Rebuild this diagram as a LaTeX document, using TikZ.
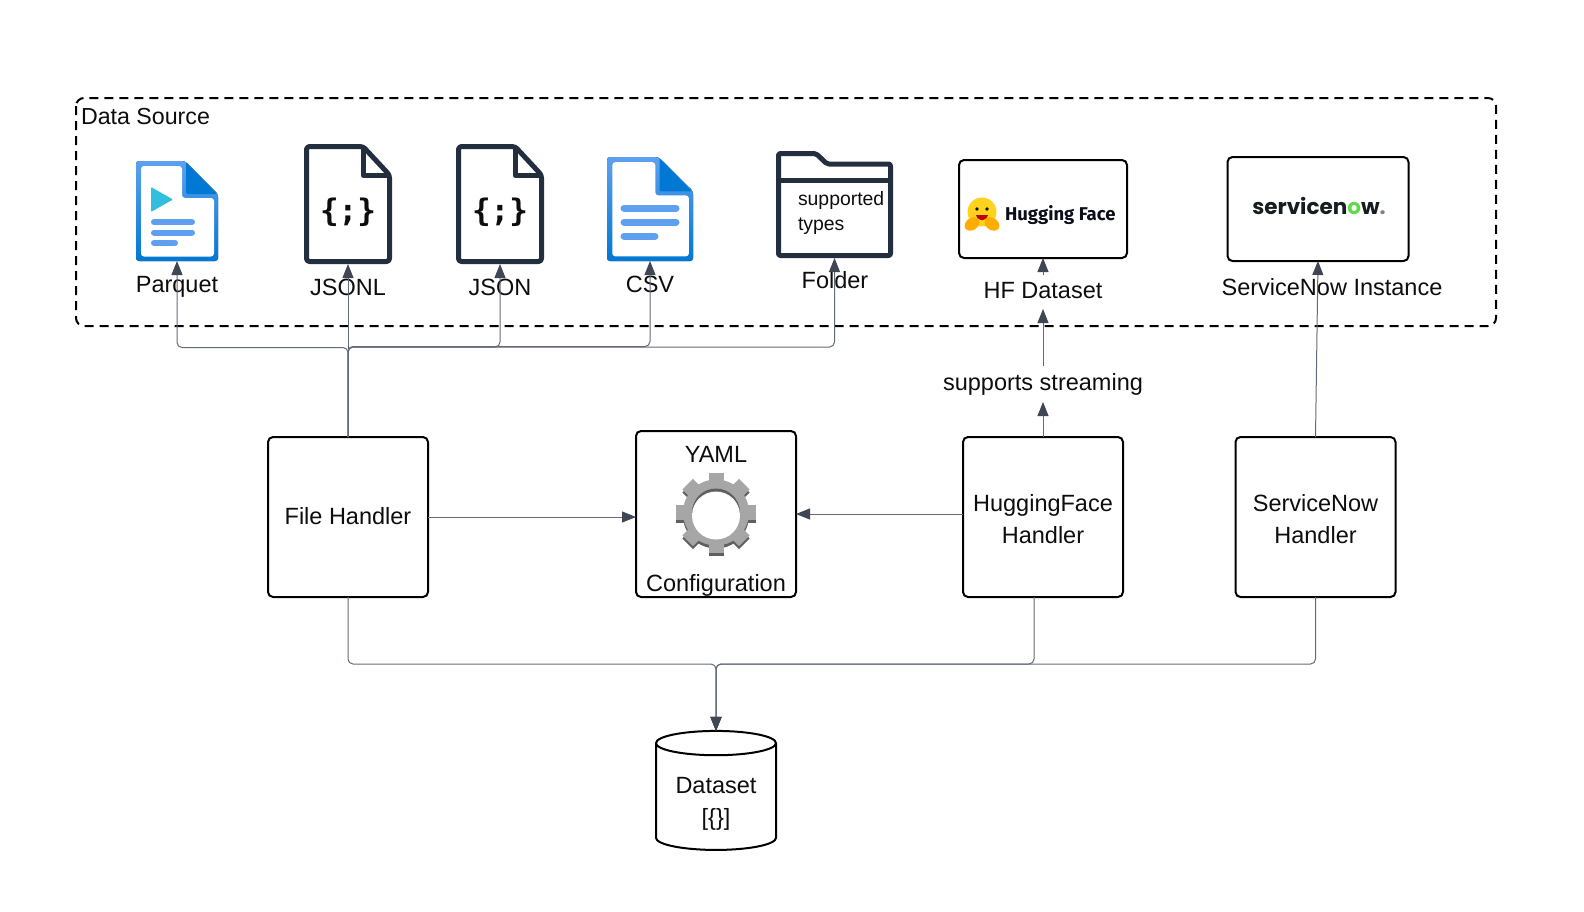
\documentclass[tikz,border=0pt]{standalone}
\usepackage{fontspec}
\setmainfont{Liberation Sans}
\newfontfamily\hffont{Fira Sans}
\newfontfamily\snfont{Poppins}
\newfontfamily\glyphfont{DejaVu Sans Mono}
\usetikzlibrary{arrows.meta,shapes.geometric,positioning}
\definecolor{inkdark}{HTML}{232F3E}
\definecolor{linegrey}{HTML}{646B78}
\definecolor{tipdark}{HTML}{404754}
\definecolor{bluelight}{HTML}{5EA0EF}
\definecolor{bluedeep}{HTML}{0078D4}
\definecolor{playcyan}{HTML}{32BEDD}
\definecolor{gearlight}{HTML}{A6A6A6}
\definecolor{gearshade}{HTML}{5F5F5F}
\definecolor{hfyellow}{HTML}{FFD21E}
\definecolor{hforange}{HTML}{FFAD03}
\definecolor{hftext}{HTML}{0B0F19}
\definecolor{snink}{HTML}{151D20}
\definecolor{sngreen}{HTML}{62D84E}
\newcommand\labelfont{\fontsize{23.5}{32}\selectfont}
\tikzset{
every node/.style={font=\labelfont,text=black!95,inner sep=0pt,outer sep=0pt},
handler/.style={draw=black,line width=2pt,rounded corners=5pt,align=center,minimum width=160pt,minimum height=160pt},
conn/.style={draw=linegrey,line width=1pt,rounded corners=5pt,-{Triangle[length=14pt,width=11pt,color=tipdark]}},
docline/.style={draw=bluelight,line cap=round},
darkdoc/.pic={
\draw[inkdark,line width=5pt,rounded corners=3pt,line join=round] (2.5,2.5) -- (59,2.5) -- (85.5,31) -- (85.5,117.5) -- (2.5,117.5) -- cycle;
\draw[inkdark,line width=5pt,line join=round] (59,2.5) -- (59,31) -- (85.5,31);
\node (-glyph) at (44,68) {\glyphfont\fontsize{31}{31}\selectfont\bfseries\{;\}};
},
bluedoc/.pic={
\fill[rounded corners=3pt,top color=bluelight,bottom color=bluedeep] (0,0) -- (49,0) -- (82,33) -- (82,100) -- (0,100) -- cycle;
\fill[white,rounded corners=3pt] (5,5) -- (46,5) -- (46,37) -- (78,37) -- (78,95.5) -- (5,95.5) -- cycle;
\fill[bluedeep,rounded corners=2pt] (50,1) -- (81,33) -- (50,33) -- cycle;
},
gearicon/.pic={
\foreach \c/\d in {gearshade/3,gearlight/0}{
\fill[\c] (0,\d) circle (33);
\foreach \a in {0,45,...,315}
\fill[\c,shift={(0,\d)},rotate=\a] (-7.5,-40) rectangle (7.5,0);
}
\fill[gearshade] (0,0) circle (24);
\fill[white] (0,3) circle (24);
},
hugface/.pic={
\fill[white] (0,0) circle (17);
\fill[hfyellow] (0,-2) circle (14.5);
\fill[hftext] (-5,-5) circle (1.8) (5,-5) circle (1.8);
\fill[red!75!black] (-6,1) .. controls (-4,8) and (4,8) .. (6,1) -- cycle;
\fill[hforange,rotate around={35:(-10,10)}] (-10,10) ellipse (8 and 6);
\fill[hforange,rotate around={-35:(10,10)}] (10,10) ellipse (8 and 6);
}
}
\begin{document}
\begin{tikzpicture}[x=1pt,y=-1pt]
\useasboundingbox (0,0) rectangle (1584,911);
\draw[black,line width=2pt,dash pattern=on 9pt off 6pt,rounded corners=8pt] (76,98) rectangle (1496,326);
\node (srclabel) [anchor=west,font=\fontsize{23.2}{32}\selectfont] at (81,117) {Data Source};
% source icons
\node (parquet) [minimum width=82pt,minimum height=100pt] at (177,211) {};
\node (jsonl) [minimum width=88pt,minimum height=120pt] at (348,204) {};
\node (json) [minimum width=88pt,minimum height=120pt] at (500,204) {};
\node (csv) [minimum width=86pt,minimum height=104pt] at (650,209) {};
\node (folder) [minimum width=117pt,minimum height=107pt] at (834.5,204.5) {};
\pic at (parquet.north west) {bluedoc};
\pic (jsonlicon) at (jsonl.north west) {darkdoc};
\pic (jsonicon) at (json.north west) {darkdoc};
\pic[xscale=1.05,yscale=1.04] at (csv.north west) {bluedoc};
\fill[playcyan,rounded corners=1pt] (151,187) -- (173,199.5) -- (151,212) -- cycle;
\draw[docline,line width=6pt] (154,222) -- (192,222) (154,232.5) -- (192,232.5) (154,243) -- (175,243);
\draw[docline,line width=7pt] (624,208) -- (676,208) (624,222) -- (676,222) (624,236) -- (655,236);
\draw[inkdark,line width=5pt,rounded corners=2pt,line join=round] (778.5,180) -- (778.5,153.5) -- (816,153.5) -- (827,164) -- (890.5,164) -- (890.5,255.5) -- (778.5,255.5) -- cycle;
\draw[inkdark,line width=5pt] (778.5,180) -- (890.5,180);
\node (foldertext) [anchor=north west,align=left,font=\fontsize{19.4}{25}\selectfont] at (798,191) {supported\\types};
\node (hfbox) [handler,minimum width=168pt,minimum height=98pt] at (1043,209) {};
\pic at (982,214) {hugface};
\node (hfname) [anchor=west,text=hftext,font=\hffont\bfseries\fontsize{18.5}{19}\selectfont] at (1005,215) {Hugging Face};
\node (snbox) [handler,minimum width=181pt,minimum height=104pt] at (1318,209) {};
\node (snname) [text=snink,font=\snfont\bfseries\fontsize{21.5}{24}\selectfont] at (1319,206) {servicen{\color{sngreen}o}w{\color{gray}.}};
% icon labels
\node (parquetlabel) at (177,287) {Parquet};
\node (jsonllabel) at (348,287) {JSONL};
\node (jsonlabel) at (500,287) {JSON};
\node (csvlabel) at (650,284) {CSV};
\node (folderlabel) at (835,280.5) {Folder};
\node (hflabel) [text height=23pt,text depth=11pt] at (1043,292) {HF Dataset};
\node (snlabel) at (1332,287) {ServiceNow Instance};
\node (streamlabel) [text height=24pt,text depth=12pt] at (1043,384) {supports streaming};
% handlers
\node (filehandler) [handler,text depth=2pt] at (348,517) {File Handler};
\node (yamlbox) [handler,minimum height=166pt] at (716,514) {};
\node (hfhandler) [handler] at (1043,517) {};
\node (snhandler) [handler] at (1315.5,517) {};
\node (hftext) [align=center] at (1043,519.5) {HuggingFace\\Handler};
\node (sntext) [align=center] at (1315.5,519.5) {ServiceNow\\Handler};
\node (yamllabel) at (716,454) {YAML};
\node (configlabel) at (716,585.5) {Configuration};
\pic at (716,512.5) {gearicon};
\node (dataset) [cylinder,shape border rotate=90,draw=black,line width=2pt,aspect=0.3,minimum width=120pt,minimum height=119pt,align=center] at (716,797) {\phantom{Dataset}\\\phantom{Dataset}};
\node (datasettext) [align=center] at (716,804) {Dataset\\{[}\{\}{]}};
% connectors
\coordinate (busfile) at (348,347.5);
\coordinate (busjson) at (348,347);
\coordinate (buscsv) at (348,346.5);
\coordinate (busfolder) at (348,347);
\coordinate (busdata) at (716,664);
\coordinate (hfout) at (1034,597);
\draw[conn] (filehandler.north) -- (busfile) -| (parquet.south);
\draw[conn] (filehandler.north) -- (jsonl.south);
\draw[conn] (filehandler.north) -- (busjson) -| (json.south);
\draw[conn] (filehandler.north) -- (buscsv) -| (csv.south);
\draw[conn] (filehandler.north) -- (busfolder) -| (folder.south);
\draw[conn] (hfhandler.north) -- (streamlabel.south);
\draw[conn] (streamlabel.north) -- (hflabel.south);
\draw[conn] (hflabel.north) -- (hfbox.south);
\draw[conn] (snhandler.north) -- (snbox.south);
\draw[conn] (filehandler.east |- 0,517) -- (yamlbox.west |- 0,517);
\draw[conn] (hfhandler.west |- 0,514) -- (yamlbox.east |- 0,514);
\draw[conn] (filehandler.south) |- (busdata) -- (dataset.north);
\draw[conn] (hfout) |- (busdata) -- (dataset.north);
\draw[conn] (snhandler.south) |- (busdata) -- (dataset.north);
\end{tikzpicture}
\end{document}
